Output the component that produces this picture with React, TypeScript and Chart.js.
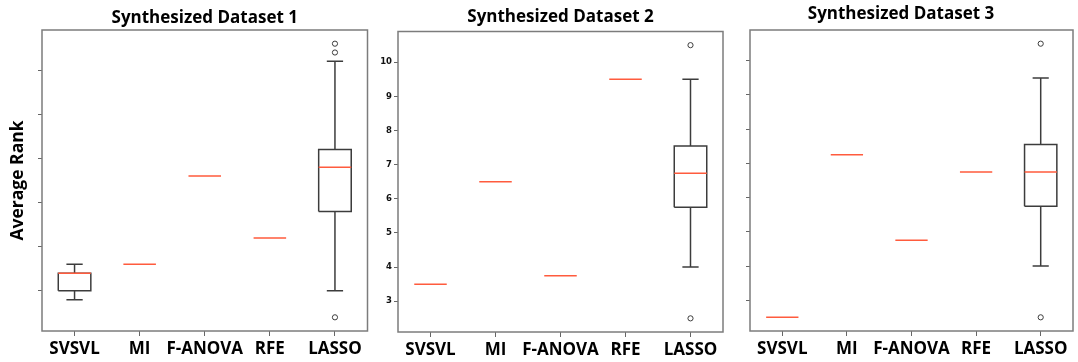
import React, { useEffect, useRef } from 'react';
import { Chart, registerables } from 'chart.js';

Chart.register(...registerables);

// ---------- Data ----------
const categories = ['SVSVL', 'MI', 'F-ANOVA', 'RFE', 'LASSO'];
const panelTitles = ['Synthesized Dataset 1', 'Synthesized Dataset 2', 'Synthesized Dataset 3'];
const yAxisTitle = 'Average Rank';

// Synthesized Dataset 1 (tick labels are not printed in the source; estimated scale)
const d1Median = [3.4, 3.6, 5.6, 4.2, 5.8];
const d1Q1 = [3.0, 3.6, 5.6, 4.2, 4.8];
const d1Q3 = [3.4, 3.6, 5.6, 4.2, 6.2];
const d1WhiskerLow = [2.8, 3.6, 5.6, 4.2, 3.0];
const d1WhiskerHigh = [3.6, 3.6, 5.6, 4.2, 8.2];
const d1Outliers: number[][] = [[], [], [], [], [2.4, 8.4, 8.6]];
const d1YTicks = [3, 4, 5, 6, 7, 8];

// Synthesized Dataset 2
const d2Median = [3.5, 6.5, 3.75, 9.5, 6.75];
const d2Q1 = [3.5, 6.5, 3.75, 9.5, 5.75];
const d2Q3 = [3.5, 6.5, 3.75, 9.5, 7.55];
const d2WhiskerLow = [3.5, 6.5, 3.75, 9.5, 4.0];
const d2WhiskerHigh = [3.5, 6.5, 3.75, 9.5, 9.5];
const d2Outliers: number[][] = [[], [], [], [], [2.5, 10.5]];
const d2YTicks = [3, 4, 5, 6, 7, 8, 9, 10];

// Synthesized Dataset 3
const d3Median = [2.5, 7.25, 4.75, 6.75, 6.75];
const d3Q1 = [2.5, 7.25, 4.75, 6.75, 5.75];
const d3Q3 = [2.5, 7.25, 4.75, 6.75, 7.55];
const d3WhiskerLow = [2.5, 7.25, 4.75, 6.75, 4.0];
const d3WhiskerHigh = [2.5, 7.25, 4.75, 6.75, 9.5];
const d3Outliers: number[][] = [[], [], [], [], [2.5, 10.5]];
const d3YTicks = [3, 4, 5, 6, 7, 8, 9, 10];

// ---------- Styling / layout ----------
const BOX_COLOR = '#3c3c3c';
const MEDIAN_COLOR = '#ff5b3d';
const FRAME_COLOR = '#7c7c7c';
const TICK_COLOR = '#666666';
const H = 362;

type Layout = {
  left: number; width: number; padLeft: number; yAxisWidth: number; areaRight: number;
  top: number; bottom: number; titlePadTop: number; titleFull: boolean;
};

type Panel = {
  title: string;
  median: number[]; q1: number[]; q3: number[];
  wLow: number[]; wHigh: number[]; outliers: number[][];
  yTicks: number[]; showYLabels: boolean; showYTitle: boolean;
  layout: Layout;
};

const panels: Panel[] = [
  {
    title: panelTitles[0], median: d1Median, q1: d1Q1, q3: d1Q3, wLow: d1WhiskerLow, wHigh: d1WhiskerHigh,
    outliers: d1Outliers, yTicks: d1YTicks, showYLabels: false, showYTitle: true,
    layout: { left: 0, width: 414, padLeft: 0, yAxisWidth: 42, areaRight: 367.5, top: 30, bottom: 331, titlePadTop: 7.8, titleFull: false },
  },
  {
    title: panelTitles[1], median: d2Median, q1: d2Q1, q3: d2Q3, wLow: d2WhiskerLow, wHigh: d2WhiskerHigh,
    outliers: d2Outliers, yTicks: d2YTicks, showYLabels: true, showYTitle: false,
    layout: { left: 370, width: 374, padLeft: 0, yAxisWidth: 28, areaRight: 723, top: 31.5, bottom: 332, titlePadTop: 7.3, titleFull: false },
  },
  {
    title: panelTitles[2], median: d3Median, q1: d3Q1, q3: d3Q3, wLow: d3WhiskerLow, wHigh: d3WhiskerHigh,
    outliers: d3Outliers, yTicks: d3YTicks, showYLabels: false, showYTitle: false,
    layout: { left: 725, width: 353, padLeft: 0, yAxisWidth: 25, areaRight: 1077, top: 30, bottom: 331, titlePadTop: 4, titleFull: true },
  },
];

const BOX_HALF = 0.25;
const CAP_HALF = 0.125;

type Pt = { x: number; y: number | null };

function buildBoxLines(p: Panel): Pt[] {
  const pts: Pt[] = [];
  const gap = (i: number) => pts.push({ x: i, y: null });
  categories.forEach((_, i) => {
    if (p.q3[i] > p.q1[i]) {
      pts.push({ x: i - BOX_HALF, y: p.q1[i] }, { x: i + BOX_HALF, y: p.q1[i] },
        { x: i + BOX_HALF, y: p.q3[i] }, { x: i - BOX_HALF, y: p.q3[i] }, { x: i - BOX_HALF, y: p.q1[i] });
      gap(i);
    }
    if (p.wHigh[i] > p.q3[i]) {
      pts.push({ x: i, y: p.q3[i] }, { x: i, y: p.wHigh[i] });
      gap(i);
      pts.push({ x: i - CAP_HALF, y: p.wHigh[i] }, { x: i + CAP_HALF, y: p.wHigh[i] });
      gap(i);
    }
    if (p.wLow[i] < p.q1[i]) {
      pts.push({ x: i, y: p.q1[i] }, { x: i, y: p.wLow[i] });
      gap(i);
      pts.push({ x: i - CAP_HALF, y: p.wLow[i] }, { x: i + CAP_HALF, y: p.wLow[i] });
      gap(i);
    }
  });
  return pts;
}

function buildMedians(p: Panel): Pt[] {
  const pts: Pt[] = [];
  categories.forEach((_, i) => {
    pts.push({ x: i - BOX_HALF, y: p.median[i] }, { x: i + BOX_HALF, y: p.median[i] }, { x: i, y: null });
  });
  return pts;
}

function buildOutliers(p: Panel): Pt[] {
  const pts: Pt[] = [];
  p.outliers.forEach((arr, i) => arr.forEach((v) => pts.push({ x: i, y: v })));
  return pts;
}

const framePlugin = {
  id: 'frame',
  afterDatasetsDraw(chart: any) {
    const { ctx, chartArea: a } = chart;
    ctx.save();
    ctx.strokeStyle = FRAME_COLOR;
    ctx.lineWidth = 1.5;
    ctx.strokeRect(a.left, a.top, a.right - a.left, a.bottom - a.top);
    ctx.restore();
  },
};

function BoxPanel({ panel }: { panel: Panel }) {
  const ref = useRef<HTMLCanvasElement>(null);
  const L = panel.layout;

  useEffect(() => {
    const all: number[] = [...panel.q1, ...panel.q3, ...panel.wLow, ...panel.wHigh, ...panel.median, ...panel.outliers.flat()];
    const dMin = Math.min(...all);
    const dMax = Math.max(...all);
    const margin = (dMax - dMin) * 0.05;
    const titleSize = 17;
    const titleLH = titleSize * 1.2;

    const chart = new Chart(ref.current as HTMLCanvasElement, {
      type: 'line',
      data: {
        datasets: [
          {
            label: 'box', data: buildBoxLines(panel) as any, borderColor: BOX_COLOR, borderWidth: 1.5,
            pointRadius: 0, spanGaps: false, fill: false, tension: 0, order: 3,
          },
          {
            label: 'median', data: buildMedians(panel) as any, borderColor: MEDIAN_COLOR, borderWidth: 1.5,
            pointRadius: 0, spanGaps: false, fill: false, tension: 0, order: 1,
          },
          {
            label: 'outliers', data: buildOutliers(panel) as any, showLine: false, pointRadius: 2.6,
            pointBorderColor: BOX_COLOR, pointBackgroundColor: '#ffffff', pointBorderWidth: 1, order: 2,
            borderColor: BOX_COLOR, backgroundColor: '#ffffff',
          },
        ],
      },
      options: {
        responsive: false,
        animation: false,
        layout: { padding: { left: L.padLeft, top: 0, bottom: 0, right: L.left + L.width - L.areaRight } },
        plugins: {
          legend: { display: false },
          tooltip: { enabled: false },
          title: {
            display: true, text: panel.title, fullSize: L.titleFull, color: '#000',
            font: { family: 'Open Sans', weight: 'bold', size: titleSize },
            padding: { top: L.titlePadTop, bottom: L.top - L.titlePadTop - titleLH },
          },
        },
        scales: {
          x: {
            type: 'linear', min: -0.5, max: categories.length - 0.5,
            afterBuildTicks: (s: any) => { s.ticks = categories.map((_, i) => ({ value: i })); },
            afterFit: (s: any) => { s.height = H - L.bottom; },
            ticks: {
              callback: (v: any) => categories[Math.round(Number(v))] ?? '',
              color: '#000', font: { family: 'Open Sans', weight: 'bold', size: 17 },
              padding: 3, maxRotation: 0, autoSkip: false,
            },
            grid: { display: true, drawOnChartArea: false, drawTicks: true, tickLength: 5, color: TICK_COLOR, lineWidth: 1 },
            border: { display: false },
          },
          y: {
            type: 'linear', min: dMin - margin, max: dMax + margin,
            afterBuildTicks: (s: any) => { s.ticks = panel.yTicks.map((v) => ({ value: v })); },
            afterFit: (s: any) => { s.width = L.yAxisWidth; },
            ticks: {
              display: panel.showYLabels, color: '#111', padding: 2,
              font: { family: 'DejaVu Sans', weight: 'bold', size: 8.5 },
            },
            grid: { display: true, drawOnChartArea: false, drawTicks: true, tickLength: 4, color: TICK_COLOR, lineWidth: 1 },
            border: { display: false },
            title: {
              display: panel.showYTitle, text: yAxisTitle, color: '#000',
              font: { family: 'Open Sans', weight: 'bold', size: 17.5 },
              padding: { top: 7.5, bottom: 0 },
            },
          },
        },
      } as any,
      plugins: [framePlugin],
    });
    return () => chart.destroy();
  }, [panel]);

  return (
    <canvas
      ref={ref}
      width={L.width}
      height={H}
      style={{ position: 'absolute', left: L.left, top: 0, width: L.width, height: H, display: 'block' }}
    />
  );
}

export default function App() {
  return (
    <div style={{ position: 'absolute', left: 0, top: 0, width: 1078, height: H, background: '#ffffff', overflow: 'hidden' }}>
      {panels.map((p, i) => (
        <BoxPanel key={i} panel={p} />
      ))}
    </div>
  );
}
